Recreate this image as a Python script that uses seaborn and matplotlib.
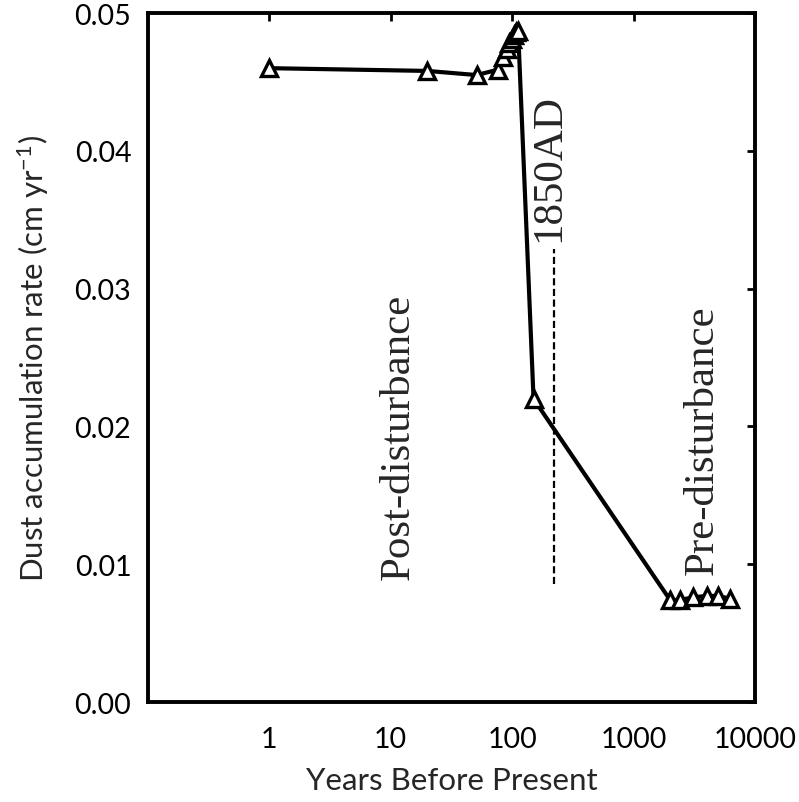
import matplotlib
matplotlib.use("Agg")
import matplotlib.pyplot as plt
import matplotlib.ticker as mticker
import numpy as np
import pandas as pd
import seaborn as sns

# Dust accumulation record (years before present vs rate, cm/yr)
years = [1, 20, 51, 77, 84, 90, 95, 100, 104, 108, 112,
         150, 2000, 2400, 3100, 4000, 5000, 6200]
rate = [0.0460, 0.0458, 0.0455, 0.0459, 0.0468, 0.0474, 0.0478, 0.0481,
        0.0484, 0.0486, 0.0487,
        0.0220, 0.0074, 0.0074, 0.0076, 0.0077, 0.0077, 0.0075]

x_ticks = [1, 10, 100, 1000, 10000]
x_tick_labels = ["1", "10", "100", "1000", "10000"]
y_ticks = [0.00, 0.01, 0.02, 0.03, 0.04, 0.05]

marker_year_1850 = 220
dash_span = (0.0086, 0.0329)

df = pd.DataFrame({"years": years, "rate": rate})

sns.set_theme(style="white")
plt.rcParams["font.family"] = ["Lato", "DejaVu Sans"]
plt.rcParams["mathtext.default"] = "regular"

fig = plt.figure(figsize=(7.99, 8.03), dpi=100)
ax = fig.add_axes([0.1852, 0.1245, 0.7597, 0.858])

sns.lineplot(data=df, x="years", y="rate", ax=ax, estimator=None,
             color="black", linewidth=3, marker="^", markersize=11,
             markerfacecolor="white", markeredgecolor="black",
             markeredgewidth=2.4, zorder=3)

# 1850 AD boundary
ax.plot([marker_year_1850, marker_year_1850], dash_span, color="black",
        linestyle=(0, (3.2, 1.6)), linewidth=1.6, zorder=2)

serif = ["Liberation Serif", "DejaVu Serif"]
ax.text(marker_year_1850 * 0.92, 0.0388, "1850AD", rotation=90, ha="center",
        va="center", fontsize=31, family=serif)
ax.text(11.6, 0.0193, "Post-disturbance", rotation=90, ha="center",
        va="center", fontsize=31, family=serif)
ax.text(3700, 0.0191, "Pre-disturbance", rotation=90, ha="center",
        va="center", fontsize=31, family=serif)

ax.set_xscale("log")
ax.set_xlim(0.1, 10000)
ax.set_ylim(0, 0.05)
ax.set_xticks(x_ticks)
ax.set_xticklabels(x_tick_labels)
ax.xaxis.set_minor_locator(mticker.NullLocator())
ax.set_yticks(y_ticks)
ax.yaxis.set_major_formatter(mticker.FormatStrFormatter("%.2f"))

ax.tick_params(axis="both", which="major", direction="in", length=6,
               width=2, top=True, right=True, labelsize=20.5, pad=12,
               colors="black")
ax.tick_params(axis="x", pad=17)
for s in ax.spines.values():
    s.set_linewidth(2.8)
    s.set_color("black")

ax.set_xlabel("Years Before Present", fontsize=22.5, labelpad=10)
ax.set_ylabel("Dust accumulation rate (cm yr$^{-1}$)", fontsize=22.5,
              labelpad=17)

fig.savefig("out.png", dpi=100, facecolor="white")
